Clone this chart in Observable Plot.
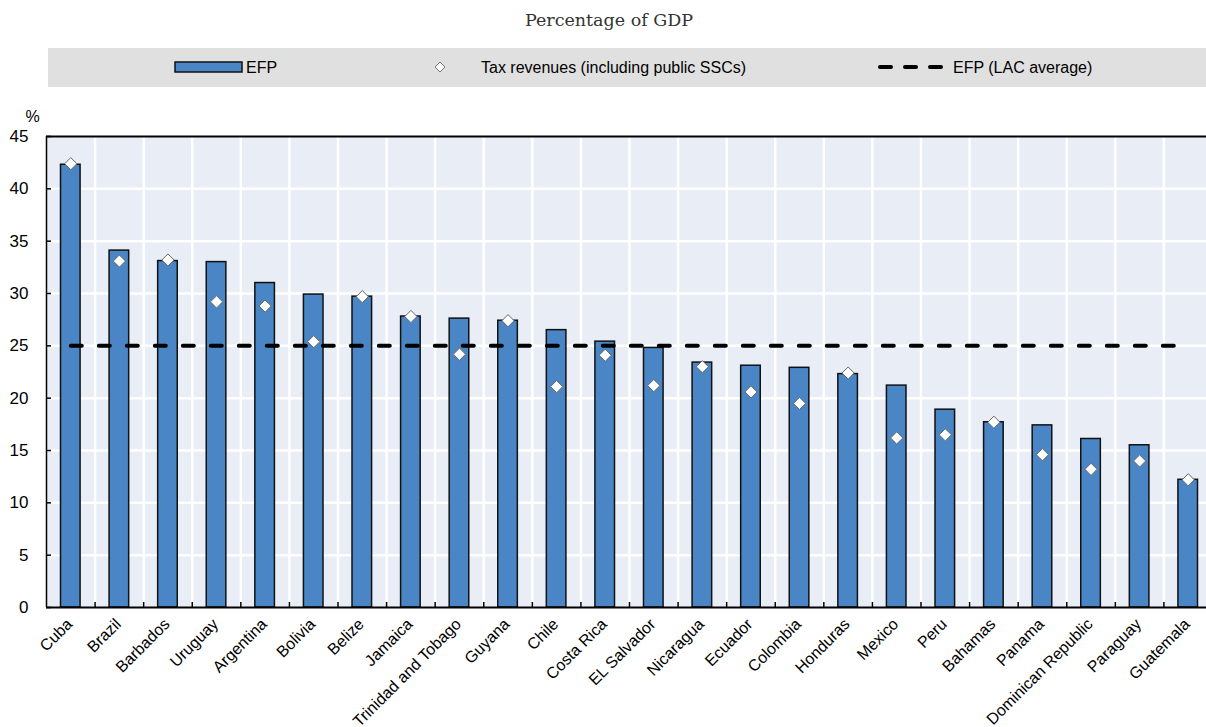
<!DOCTYPE html>
<html>
<head>
<meta charset="utf-8">
<script src="https://cdn.jsdelivr.net/npm/d3@7"></script>
<script src="https://cdn.jsdelivr.net/npm/@observablehq/plot@0.6"></script>
<style>
  html, body { margin: 0; padding: 0; overflow: hidden; background: #fff; }
  #wrap { position: relative; width: 1206px; height: 727px; overflow: hidden; font-family: "Liberation Sans", Arial, sans-serif; color: #000; }
  #title { position: absolute; left: 0; top: 9px; width: 1218px; text-align: center; font-family: "DejaVu Serif", serif; font-size: 17.5px; line-height: 22px; color: #333; }
  #legend { position: absolute; left: 48px; top: 48px; width: 1158px; height: 39px; background: #e0e0e0; font-size: 16px; }
  #legend .item { position: absolute; top: 0; height: 39px; line-height: 39px; white-space: nowrap; }
  #legend svg { position: absolute; }
  #chart { position: absolute; left: 0; top: 90px; width: 1212px; }
  #chart svg { max-width: none !important; }
</style>
</head>
<body>
<div id="wrap">
  <div id="title">Percentage of GDP</div>
  <div id="legend">
    <svg style="left:126px;top:13px" width="70" height="13"><rect x="1" y="1" width="67" height="10" fill="#4a86c6" stroke="#111" stroke-width="1.5"/></svg>
    <span class="item" style="left:198px">EFP</span>
    <svg style="left:385px;top:12px" width="14" height="14"><path d="M7,2 L12,7 L7,12 L2,7 Z" fill="#fff" stroke="#777" stroke-width="1"/></svg>
    <span class="item" style="left:433px">Tax revenues (including public SSCs)</span>
    <svg style="left:829px;top:14px" width="72" height="10"><line x1="3" y1="5" x2="69" y2="5" stroke="#000" stroke-width="4" stroke-linecap="round" stroke-dasharray="11,14"/></svg>
    <span class="item" style="left:905px">EFP (LAC average)</span>
  </div>
  <div id="chart"></div>
</div>
<script>
const countries = ["Cuba", "Brazil", "Barbados", "Uruguay", "Argentina", "Bolivia", "Belize", "Jamaica", "Trinidad and Tobago", "Guyana", "Chile", "Costa Rica", "EL Salvador", "Nicaragua", "Ecuador", "Colombia", "Honduras", "Mexico", "Peru", "Bahamas", "Panama", "Dominican Republic", "Paraguay", "Guatemala"];
const efp = [42.3, 34.1, 33.1, 33.0, 31.0, 29.9, 29.7, 27.8, 27.6, 27.4, 26.5, 25.4, 24.8, 23.4, 23.1, 22.9, 22.3, 21.2, 18.9, 17.7, 17.4, 16.1, 15.5, 12.2];
const taxRevenues = [42.4, 33.1, 33.2, 29.2, 28.8, 25.4, 29.7, 27.8, 24.2, 27.4, 21.1, 24.1, 21.2, 23.0, 20.6, 19.5, 22.4, 16.2, 16.5, 17.7, 14.6, 13.2, 14.0, 12.2];
const lacAverage = 25.0;
const yTicks = [0, 5, 10, 15, 20, 25, 30, 35, 40, 45];

const data = countries.map((c, i) => ({country: c, efp: efp[i], tax: taxRevenues[i], lac: lacAverage}));

const W = 1212, H = 637, mL = 46, mR = 0, mT = 46, mB = 120;
const bw = (W - mL - mR) / countries.length;
const plotW = W - mL - mR;

const chart = Plot.plot({
  width: W,
  height: H,
  marginLeft: mL,
  marginRight: mR,
  marginTop: mT,
  marginBottom: mB,
  style: {fontFamily: "'Liberation Sans', Arial, sans-serif", fontSize: "16px", color: "#000", background: "transparent", overflow: "visible"},
  x: {domain: countries, padding: 0, round: false},
  y: {domain: [0, 45]},
  marks: [
    Plot.frame({fill: "#e8edf6", stroke: "none"}),
    Plot.ruleY(yTicks.slice(1, -1), {stroke: "#fff", strokeWidth: 2.5}),
    Plot.ruleX(countries.slice(1), {stroke: "#fff", strokeWidth: 2.5, dx: -bw / 2}),
    Plot.barY(data, {x: "country", y: "efp", fill: "#4a86c6", stroke: "#111", strokeWidth: 1.5, insetLeft: 14.5, insetRight: 14.5}),
    Plot.line(data, {x: "country", y: "lac", stroke: "#000", strokeWidth: 4, strokeDasharray: "11,17", strokeLinecap: "round"}),
    Plot.dot(data, {x: "country", y: "tax", symbol: "diamond2", r: 5.5, fill: "#fff", stroke: "#666", strokeWidth: 1}),
    Plot.ruleY([45], {stroke: "#000", strokeWidth: 2}),
    Plot.ruleY([0], {stroke: "#000", strokeWidth: 2}),
    Plot.ruleX([countries[0]], {stroke: "#000", strokeWidth: 1.5, dx: -bw / 2}),
    Plot.ruleY(yTicks, {stroke: "#000", strokeWidth: 1.5, insetRight: plotW - 5}),
    Plot.ruleX(countries.slice(1), {y1: 0, y2: 0, insetBottom: 5, stroke: "#000", strokeWidth: 1.5, dx: -bw / 2}),
    Plot.axisY({ticks: yTicks, tickSize: 0, tickPadding: 18, fontSize: 17, label: null}),
    Plot.axisX({tickSize: 0, tickPadding: 14, tickRotate: -45, fontSize: 16, dx: -1, label: null}),
    Plot.text(["%"], {frameAnchor: "top-left", dx: -21, dy: -26, fontSize: 16})
  ]
});
document.getElementById("chart").appendChild(chart);
</script>
</body>
</html>
